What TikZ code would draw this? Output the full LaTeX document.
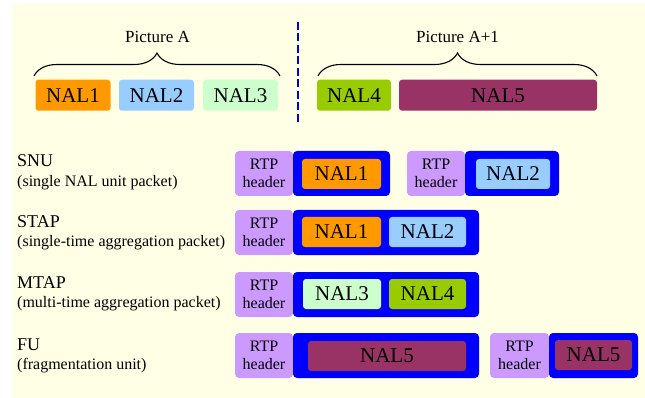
\documentclass[tikz,border=0pt]{standalone}
\usepackage{fontspec}
\setmainfont{Liberation Serif}
\usetikzlibrary{decorations.pathreplacing}
\definecolor{bgyellow}{RGB}{255,255,230}
\definecolor{nalorange}{RGB}{255,153,0}
\definecolor{nalblue}{RGB}{153,204,255}
\definecolor{nalmint}{RGB}{204,255,204}
\definecolor{nalgreen}{RGB}{153,204,0}
\definecolor{nalmaroon}{RGB}{153,51,102}
\definecolor{rtpviolet}{RGB}{204,153,255}
\definecolor{pktblue}{RGB}{0,0,255}
\definecolor{dashblue}{RGB}{0,0,230}
\begin{document}
\begin{tikzpicture}[x=1pt,y=-1pt,
  nalbox/.style={rounded corners=3pt, inner sep=0pt, minimum height=31pt,
    font=\fontsize{21}{24}\selectfont, text=black},
  innerbox/.style={rounded corners=3pt, inner sep=0pt, minimum height=30pt,
    font=\fontsize{21}{24}\selectfont, text=black},
  rtpbox/.style={fill=rtpviolet, rounded corners=4pt, inner sep=0pt,
    minimum height=45pt, align=center, font=\fontsize{16}{18}\selectfont},
  pktbox/.style={fill=pktblue, rounded corners=4pt, inner sep=0pt, minimum height=45pt},
  ttl/.style={anchor=base west, inner sep=0pt, font=\fontsize{18}{20}\selectfont},
  subttl/.style={anchor=base west, inner sep=0pt, font=\fontsize{16}{18}\selectfont},
  pic/.style={anchor=base, inner sep=0pt, font=\fontsize{17}{20}\selectfont},
  bracestyle/.style={decorate, decoration={brace, amplitude=23pt}, line width=1.1pt},
  dashline/.style={draw=dashblue, line width=2pt, dash pattern=on 8pt off 3.5pt}
]
\useasboundingbox (0,0) rectangle (645,398);
\fill[bgyellow] (12,3) rectangle (645,398);

% top row
\node[pic] (picA) at (157.5,43) {Picture A};
\node[pic] (picB) at (457.5,43) {Picture A+1};
\coordinate (bAl) at (34,76);
\coordinate (bAr) at (280,76);
\coordinate (bBl) at (318,76);
\coordinate (bBr) at (597,76);
\draw[bracestyle] (bAl) -- (bAr);
\draw[bracestyle] (bBl) -- (bBr);
\coordinate (dtop) at (297.5,22);
\coordinate (dbot) at (297.5,125);
\draw[dashline] (dtop) -- (dbot);

\node[nalbox, fill=nalorange, minimum width=75pt] (t1) at (73,95.25) {NAL1};
\node[nalbox, fill=nalblue, minimum width=75pt] (t2) at (156.5,95.25) {NAL2};
\node[nalbox, fill=nalmint, minimum width=75pt] (t3) at (240.5,95.25) {NAL3};
\node[nalbox, fill=nalgreen, minimum width=74pt] (t4) at (354,95.25) {NAL4};
\node[nalbox, fill=nalmaroon, minimum width=198pt] (t5) at (498,95.25) {NAL5};

% SNU
\node[ttl] (snu) at (17,167) {SNU};
\node[subttl] (snus) at (17,187) {(single NAL unit packet)};
\node[rtpbox, minimum width=58pt] (snuh1) at (264,173.5) {RTP\\header};
\node[pktbox, minimum width=97pt] (snup1) at (341.5,173.5) {};
\node[innerbox, fill=nalorange, minimum width=79pt] (snun1) at (341.5,174) {NAL1};
\node[rtpbox, minimum width=58pt] (snuh2) at (436,173.5) {RTP\\header};
\node[pktbox, minimum width=94pt] (snup2) at (512,173.5) {};
\node[innerbox, fill=nalblue, minimum width=74pt] (snun2) at (513,174) {NAL2};

% STAP
\node[ttl] (stap) at (17,228) {STAP};
\node[subttl] (staps) at (17,247) {(single-time aggregation packet)};
\node[rtpbox, minimum width=58pt] (staph) at (264,232.5) {RTP\\header};
\node[pktbox, minimum width=186pt] (stapp) at (386,232.5) {};
\node[innerbox, fill=nalorange, minimum width=79pt] (stapn1) at (341.5,232) {NAL1};
\node[innerbox, fill=nalblue, minimum width=77pt] (stapn2) at (427.5,232) {NAL2};

% MTAP
\node[ttl] (mtap) at (17,288) {MTAP};
\node[subttl] (mtaps) at (17,307) {(multi-time aggregation packet)};
\node[rtpbox, minimum width=58pt] (mtaph) at (264,294.5) {RTP\\header};
\node[pktbox, minimum width=186pt] (mtapp) at (386,294.5) {};
\node[innerbox, fill=nalmint, minimum width=78pt] (mtapn1) at (342,294) {NAL3};
\node[innerbox, fill=nalgreen, minimum width=77pt] (mtapn2) at (427.5,294) {NAL4};

% FU
\node[ttl] (fu) at (17,350) {FU};
\node[subttl] (fus) at (17,369) {(fragmentation unit)};
\node[rtpbox, minimum width=58pt] (fuh1) at (264,355.5) {RTP\\header};
\node[pktbox, minimum width=186pt] (fup1) at (386,355.5) {};
\node[innerbox, fill=nalmaroon, minimum width=158pt] (fun1) at (387,356) {NAL5};
\node[rtpbox, minimum width=59pt] (fuh2) at (519.5,355.5) {RTP\\header};
\node[pktbox, minimum width=89pt] (fup2) at (593.5,355.5) {};
\node[innerbox, fill=nalmaroon, minimum width=77pt] (fun2) at (593.5,355) {NAL5};
\end{tikzpicture}
\end{document}
